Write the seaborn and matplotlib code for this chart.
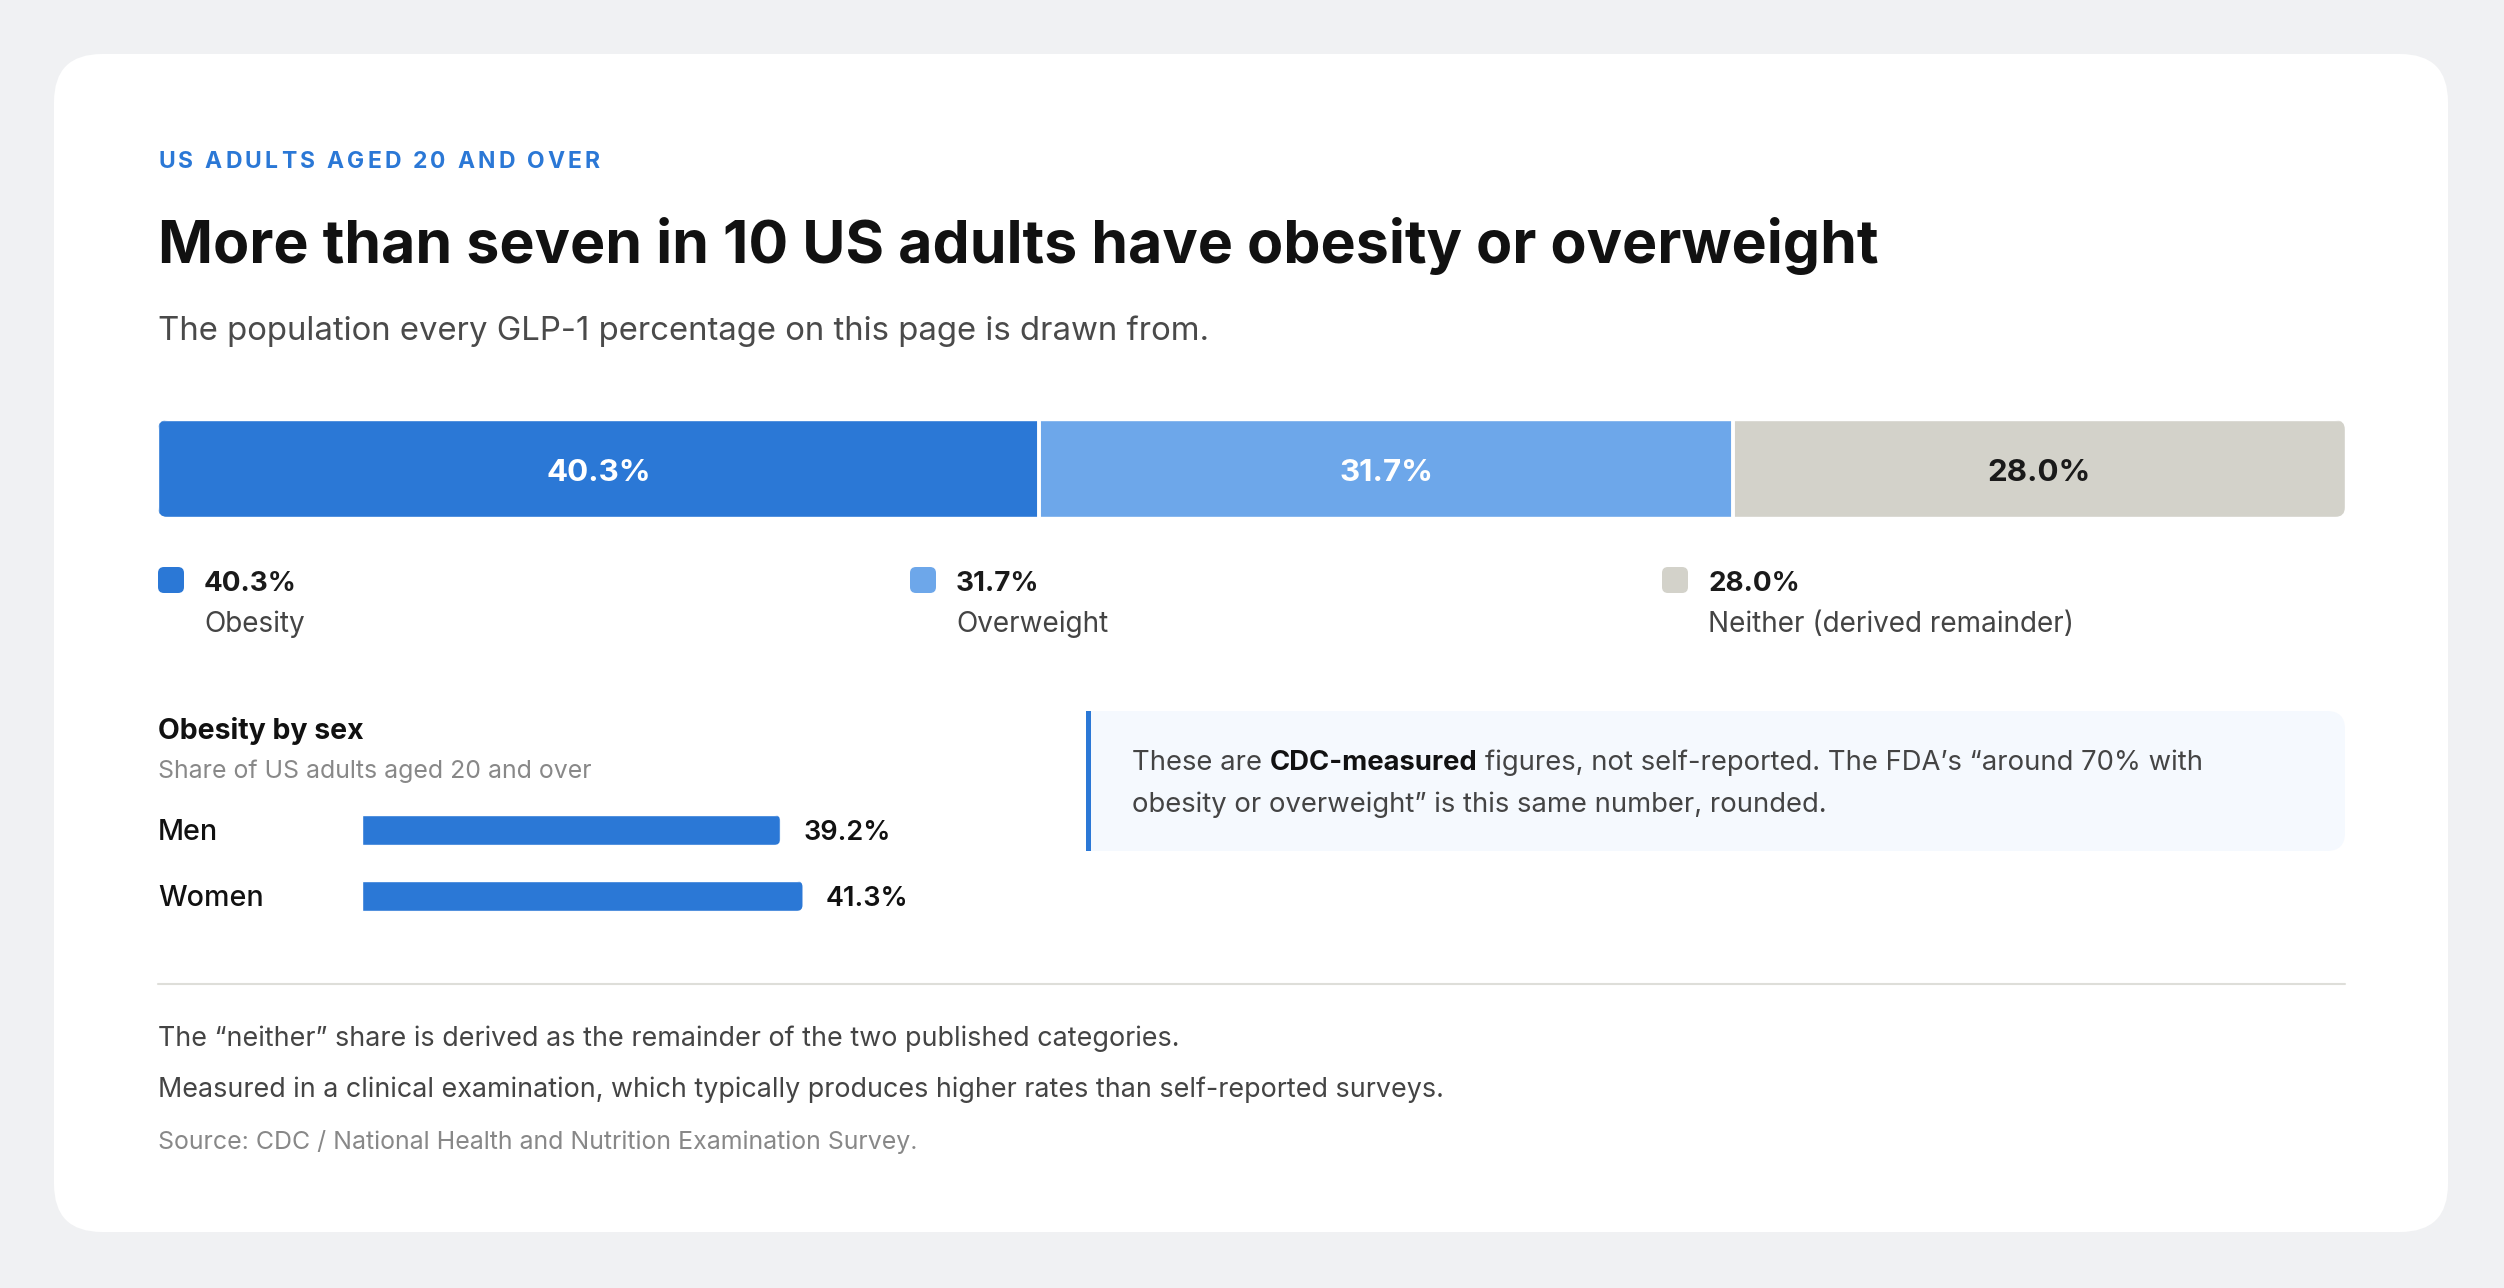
import numpy as np
import matplotlib.pyplot as plt
import matplotlib.transforms as mtransforms
import seaborn as sns
from matplotlib.patches import FancyBboxPatch, Rectangle

# data
segment_names = ["Obesity", "Overweight", "Neither (derived remainder)"]
segment_values = [40.3, 31.7, 28.0]
segment_colors = ["#2B78D6", "#6DA7EA", "#D3D2CA"]
segment_text_colors = ["#FFFFFF", "#FFFFFF", "#1A1A1A"]

sex_labels = ["Men", "Women"]
sex_values = [39.2, 41.3]

eyebrow = "US ADULTS AGED 20 AND OVER"
title = "More than seven in 10 US adults have obesity or overweight"
subtitle = "The population every GLP-1 percentage on this page is drawn from."
panel_title = "Obesity by sex"
panel_sub = "Share of US adults aged 20 and over"
callout_pre = "These are"
callout_bold = "CDC-measured"
callout_post = "figures, not self-reported. The FDA\u2019s \u201caround 70% with"
callout_line2 = "obesity or overweight\u201d is this same number, rounded."
notes = [
    "The \u201cneither\u201d share is derived as the remainder of the two published categories.",
    "Measured in a clinical examination, which typically produces higher rates than self-reported surveys.",
]
source = "Source: CDC / National Health and Nutrition Examination Survey."

sns.set_theme(style="white")
plt.rcParams["font.family"] = ["Inter", "DejaVu Sans"]

W, H = 2504, 1288
fig = plt.figure(figsize=(W / 100, H / 100), dpi=100)
fig.patch.set_facecolor("#F0F1F3")

# background axes in pixel units (y down)
bg = fig.add_axes([0, 0, 1, 1])
bg.set_xlim(0, W)
bg.set_ylim(H, 0)
bg.axis("off")
rend = fig.canvas.get_renderer()
inv = bg.transData.inverted()


def ax_at(x0, y0, x1, y1):
    a = fig.add_axes([x0 / W, 1 - y1 / H, (x1 - x0) / W, (y1 - y0) / H])
    a.patch.set_visible(False)
    for s in a.spines.values():
        s.set_visible(False)
    return a


def text_width(s, **kw):
    t = bg.text(0, 0, s, **kw)
    bb = t.get_window_extent(rend)
    t.remove()
    return bb.width


def tracked_text(x, y, s, target_width, **kw):
    # draw uppercase label with letter spacing so it spans target_width
    bar = text_width("I", **kw)
    natural = text_width(s, **kw)
    track = (target_width - natural) / (len(s) - 1)
    for i, ch in enumerate(s):
        prefix = text_width(s[:i] + "I", **kw) - bar if i else 0
        bg.text(x + prefix + i * track, y, ch, va="baseline", **kw)


# card
bg.add_patch(FancyBboxPatch((54, 54), 2394, 1178, boxstyle="round,pad=0,rounding_size=48",
                            fc="white", ec="none"))

L = 158
tracked_text(L, 168, eyebrow, 442, fontsize=16.5, fontweight="bold", color="#2B78D6")
bg.text(L, 263, title, fontsize=42.5, fontweight="bold", color="#111111", va="baseline")
bg.text(L, 340, subtitle, fontsize=23.7, color="#4A4A4A", va="baseline")

# stacked bar
x0, x1, y0, y1 = 158, 2345, 420, 517
ax = ax_at(x0, y0, x1, y1)
cum = np.cumsum(segment_values)
for i in reversed(range(len(segment_values))):
    sns.barplot(x=[cum[i]], y=["all"], orient="h", color=segment_colors[i], saturation=1,
                width=1.0, errorbar=None, ax=ax)
ax.set_xlim(0, 100)
ax.set_ylim(0.5, -0.5)
ax.set_xticks([])
ax.set_yticks([])
ax.set_xlabel("")
ax.set_ylabel("")
rounded = FancyBboxPatch((0, 0), 1, 1, boxstyle=f"round,pad=0,rounding_size={10 / (x1 - x0)}",
                         mutation_aspect=(x1 - x0) / (y1 - y0), transform=ax.transAxes)
for p in ax.patches:
    p.set_clip_path(rounded)
for c in cum[:-1]:
    ax.axvline(c, color="white", lw=2.8)
mix = mtransforms.blended_transform_factory(ax.transData, bg.transData)
for i, v in enumerate(segment_values):
    ax.text(cum[i] - v / 2, 480.5, f"{v:.1f}%", transform=mix, ha="center", va="baseline",
            fontsize=22.5, fontweight="bold", color=segment_text_colors[i])

# legend
leg_x = [158, 910, 1662]
for i, (name, v) in enumerate(zip(segment_names, segment_values)):
    bg.add_patch(FancyBboxPatch((leg_x[i], 567), 26, 26, boxstyle="round,pad=0,rounding_size=6",
                                fc=segment_colors[i], ec="none"))
    bg.text(leg_x[i] + 46, 591, f"{v:.1f}%", fontsize=20, fontweight="bold", color="#1A1A1A",
            va="baseline")
    bg.text(leg_x[i] + 46, 632, name, fontsize=20.1, color="#444444", va="baseline")

# obesity by sex
bg.text(L, 739, panel_title, fontsize=20.5, fontweight="bold", color="#111111", va="baseline")
bg.text(L, 778, panel_sub, fontsize=17.9, color="#888888", va="baseline")

sx0, sx1, sy0, sy1 = 362, 1002, 797, 929
ax2 = ax_at(sx0, sy0, sx1, sy1)
sns.barplot(x=sex_values, y=sex_labels, orient="h", color="#2B78D6", saturation=1,
            width=0.455, errorbar=None, ax=ax2)
ax2.set_xlim(0, 60)
ax2.set_ylim(1.5, -0.5)
ax2.set_xticks([])
ax2.set_yticks([])
ax2.set_xlabel("")
ax2.set_ylabel("")
px_x = (sx1 - sx0) / 60
px_y = (sy1 - sy0) / 2
r = 6 / px_x
for p in ax2.patches:
    bx, by = p.get_x(), p.get_y()
    bw, bh = p.get_width(), p.get_height()
    clip = FancyBboxPatch((bx - 2 * r, by), bw + 2 * r, bh,
                          boxstyle=f"round,pad=0,rounding_size={r}",
                          mutation_aspect=px_x / px_y, transform=ax2.transData)
    p.set_clip_path(clip)
mix2 = mtransforms.blended_transform_factory(bg.transData, ax2.transData)
for i, (lab, v) in enumerate(zip(sex_labels, sex_values)):
    ax2.text(L, i, lab, transform=mix2, va="center_baseline", fontsize=20.6,
             fontweight="medium", color="#111111")
    ax2.annotate(f"{v:.1f}%", (v, i), xytext=(23, 0), textcoords="offset pixels",
                 va="center_baseline", fontsize=19.5, fontweight="semibold", color="#111111")

# callout
bg.add_patch(FancyBboxPatch((1086, 711), 1259, 140, boxstyle="round,pad=0,rounding_size=18",
                            fc="#F5F9FE", ec="none"))
bg.add_patch(Rectangle((1086, 711), 40, 140, fc="#F5F9FE", ec="none"))
bg.add_patch(Rectangle((1086, 711), 5, 140, fc="#2B78D6", ec="none"))
cfs = 19.75
space = cfs * 100 / 72 * 0.28
t1 = bg.text(1132, 770, callout_pre, fontsize=cfs, color="#444444", va="baseline")
e1 = inv.transform(t1.get_window_extent(rend))[1][0]
t2 = bg.text(e1 + space, 770, callout_bold, fontsize=cfs, fontweight="bold", color="#111111",
             va="baseline")
e2 = inv.transform(t2.get_window_extent(rend))[1][0]
bg.text(e2 + space, 770, callout_post, fontsize=cfs, color="#444444", va="baseline")
bg.text(1132, 812, callout_line2, fontsize=cfs, color="#444444", va="baseline")

# footer
bg.plot([158, 2345], [984, 984], color="#DEDED9", lw=1.5)
bg.text(L, 1046, notes[0], fontsize=19.4, color="#444444", va="baseline")
bg.text(L, 1097, notes[1], fontsize=19.35, color="#444444", va="baseline")
bg.text(L, 1149, source, fontsize=17.95, color="#888888", va="baseline")

fig.savefig("out.png", dpi=100, facecolor=fig.get_facecolor())
